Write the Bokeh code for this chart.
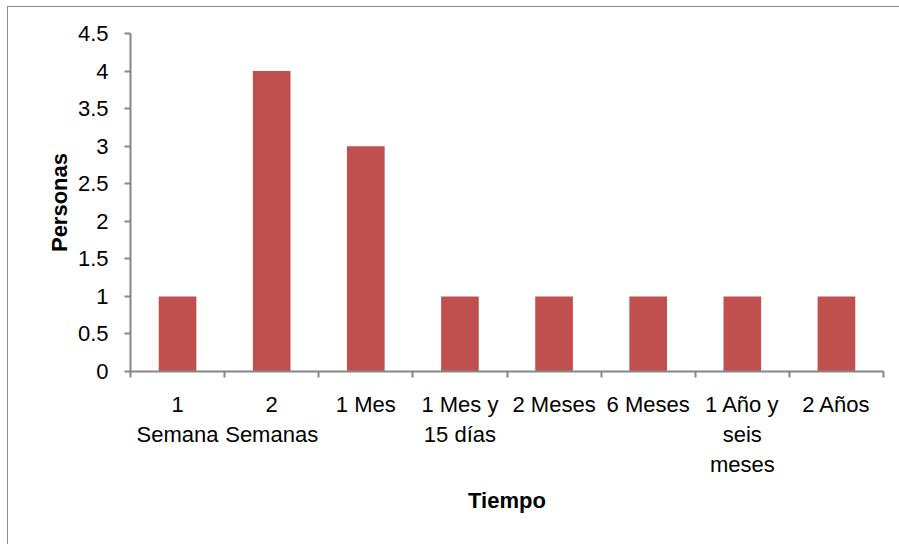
import numpy as np
from bokeh.plotting import figure
from bokeh.models import FixedTicker, Range1d
from bokeh.embed import file_html
from bokeh.resources import INLINE

categories = ["1 Semana", "2 Semanas", "1 Mes", "1 Mes y 15 días",
              "2 Meses", "6 Meses", "1 Año y seis meses", "2 Años"]
tick_labels = ["1\nSemana", "2\nSemanas", "1 Mes", "1 Mes y\n15 días",
               "2 Meses", "6 Meses", "1 Año y\nseis\nmeses", "2 Años"]
values = [1, 4, 3, 1, 1, 1, 1, 1]
y_ticks = [0, 0.5, 1, 1.5, 2, 2.5, 3, 3.5, 4, 4.5]

FONT = "Liberation Sans"
AXIS = "#868686"

n = len(categories)
xc = np.arange(n) + 0.5

p = figure(width=892, height=538, output_backend="svg", toolbar_location=None,
           x_range=Range1d(0, n), y_range=Range1d(0, 4.5),
           min_border_left=122, min_border_right=17, min_border_top=26,
           min_border_bottom=174)
p.styles = {"margin-left": "7px", "margin-top": "6px",
            "border-left": "1px solid #8c8c8c", "border-top": "1px solid #8c8c8c",
            "box-sizing": "border-box"}

p.vbar(x=xc, top=values, width=0.4, bottom=0, fill_color="#C0504D", line_color=None)

p.outline_line_color = None
p.grid.grid_line_color = None

# x axis
p.xaxis.ticker = FixedTicker(ticks=list(xc), minor_ticks=list(np.arange(n + 1)))
p.xaxis.major_label_overrides = {float(x): t for x, t in zip(xc, tick_labels)}
p.xaxis.major_tick_in = 0
p.xaxis.major_tick_out = 0
p.xaxis.minor_tick_in = 0
p.xaxis.minor_tick_out = 6
p.xaxis.minor_tick_line_color = AXIS
p.xaxis.minor_tick_line_width = 2
p.xaxis.axis_line_color = AXIS
p.xaxis.axis_line_width = 2
p.xaxis.major_label_standoff = 14
p.xaxis.major_label_text_font = FONT
p.xaxis.major_label_text_font_size = "22px"
p.xaxis.major_label_text_color = "#000000"
p.xaxis.axis_label = "Tiempo"
p.xaxis.axis_label_text_font = FONT
p.xaxis.axis_label_text_font_size = "22px"
p.xaxis.axis_label_text_font_style = "bold"
p.xaxis.axis_label_text_color = "#000000"
p.xaxis.axis_label_standoff = 8

# y axis
p.yaxis.ticker = FixedTicker(ticks=y_ticks)
p.yaxis.major_tick_in = 0
p.yaxis.major_tick_out = 6
p.yaxis.major_tick_line_color = AXIS
p.yaxis.major_tick_line_width = 2
p.yaxis.minor_tick_line_color = None
p.yaxis.axis_line_color = AXIS
p.yaxis.axis_line_width = 2
p.yaxis.major_label_standoff = 16
p.yaxis.major_label_text_font = FONT
p.yaxis.major_label_text_font_size = "22px"
p.yaxis.major_label_text_color = "#000000"
p.yaxis.axis_label = "Personas"
p.yaxis.axis_label_text_font = FONT
p.yaxis.axis_label_text_font_size = "22px"
p.yaxis.axis_label_text_font_style = "bold"
p.yaxis.axis_label_text_color = "#000000"
p.yaxis.axis_label_standoff = 3

open("out.html", "w").write(file_html(p, INLINE))
